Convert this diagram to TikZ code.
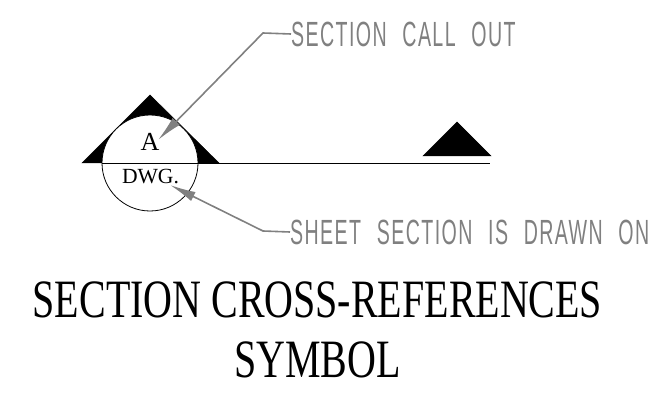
\documentclass[tikz,border=0pt]{standalone}
\usepackage{fontspec}
\usepackage{tikz}
\usetikzlibrary{arrows.meta}
\setmainfont{Liberation Serif}
\newfontfamily\leaderfont[FakeStretch=0.56,LetterSpace=4,WordSpace=2.3]{Liberation Sans}
\newfontfamily\titlefont[FakeStretch=0.74]{Liberation Serif}
\definecolor{leadergray}{gray}{0.5}
\tikzset{
    marker/.style = {fill=black, draw=black, line width=0.5pt},
    leader/.style = {draw=leadergray, line width=1.6pt, -{Latex[length=26pt,width=10pt]}},
    note/.style = {text=leadergray, font=\leaderfont\fontsize{35}{35}\selectfont, anchor=west, inner sep=0pt},
    title/.style = {font=\titlefont\fontsize{54}{54}\selectfont, inner sep=0pt}
}

\begin{document}
\begin{tikzpicture}[x=1pt, y=-1pt]
            \useasboundingbox (0,0) rectangle (651,393);
            %section line and markers
            \draw[marker] (82,163) -- (150,95) -- (219,163) -- cycle;
            \draw[marker] (423,156) -- (457,122) -- (491,156) -- cycle;
            \node[circle, draw=black, fill=white, line width=0.8pt, minimum size=96pt, inner sep=0pt] (bubble) at (150,163) {};
            \draw[line width=0.9pt] (bubble.west) -- (490,163);
            
            \node[font=\fontsize{26}{26}\selectfont, inner sep=0pt] (sectionid) at (150,142) {A};
            \node[font=\fontsize{21.6}{22}\selectfont, inner sep=0pt] (sheetid) at (150.5,177) {DWG.};
            
            %leaders
            \node[note] (calltext) at (291,34) {SECTION CALL OUT};
            \node[note] (sheettext) at (290,232) {SHEET SECTION IS DRAWN ON};
            \coordinate (callknee) at (263,33);
            \coordinate (sheetknee) at (263,231);
            \coordinate (calltip) at (158,140);
            \coordinate (sheettip) at (170,185);
            \draw[leader] (calltext.west) -- (callknee) -- (calltip);
            \draw[leader] (sheettext.west) -- (sheetknee) -- (sheettip);
            
            %titles
            \node[title] (titleone) at (317.5,300) {SECTION CROSS-REFERENCES};
            \node[title] (titletwo) at (317.5,360) {SYMBOL};
            \end{tikzpicture}
\end{document}
